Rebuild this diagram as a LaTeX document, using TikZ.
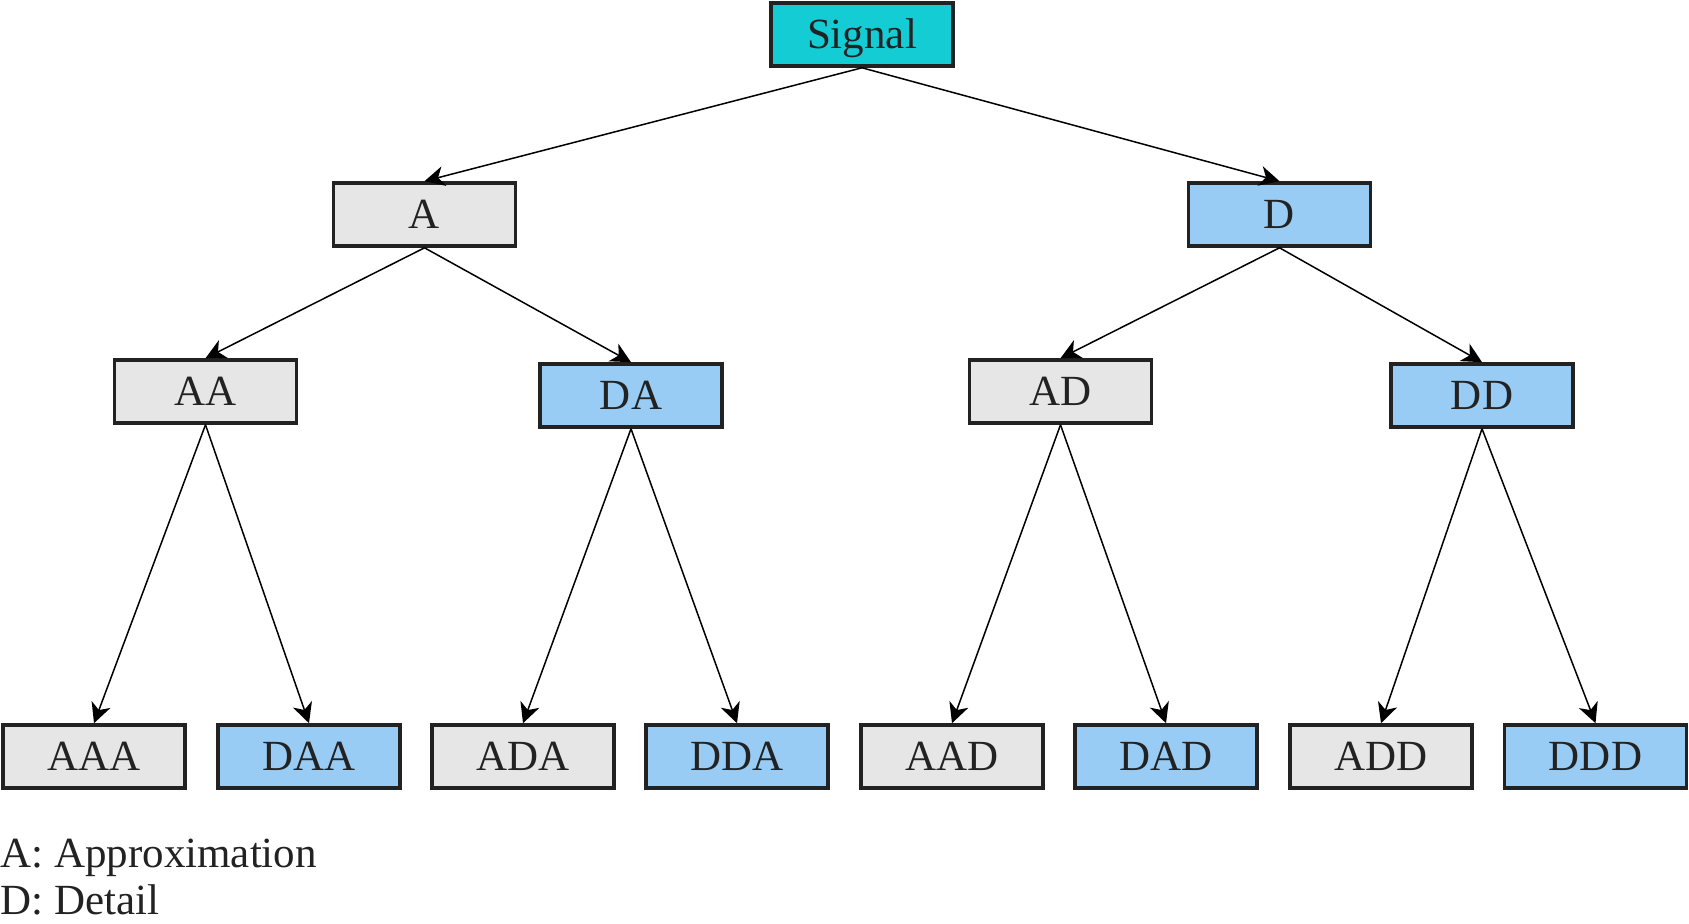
\documentclass[tikz,border=0pt]{standalone}
\usepackage{fontspec}
\setmainfont{Liberation Serif}
\usetikzlibrary{arrows.meta}
\definecolor{sigcol}{HTML}{14CCD4}
\definecolor{acol}{HTML}{E6E6E6}
\definecolor{dcol}{HTML}{99CCF5}
\definecolor{edgecol}{HTML}{222222}
\tikzset{
  box/.style={draw=edgecol, line width=1.8pt, minimum width=91pt, minimum height=31.5pt, inner sep=0pt, text height=14pt, text depth=0pt, font=\fontsize{21.5pt}{25pt}\selectfont, text=edgecol},
  abox/.style={box, fill=acol},
  dbox/.style={box, fill=dcol},
  sbox/.style={box, fill=sigcol},
  link/.style={draw=black, line width=0.75pt, -{Stealth[length=10pt,width=10pt,inset=3pt]}},
  legend/.style={anchor=base west, inner sep=0pt, font=\fontsize{21.5pt}{25pt}\selectfont, text=edgecol}
}
\begin{document}
\begin{tikzpicture}[x=0.5pt,y=-0.5pt]
\useasboundingbox (0,0) rectangle (1689,924);
\node[sbox] (S) at (862,34.5) {Signal};
\node[abox] (A) at (424.5,214.5) {A};
\node[dbox] (D) at (1279.5,214.5) {D};
\node[abox] (AA) at (205.5,391.5) {AA};
\node[dbox] (DA) at (631,395.5) {DA};
\node[abox] (AD) at (1060.5,391.5) {AD};
\node[dbox] (DD) at (1482,395.5) {DD};
\node[abox] (AAA) at (94,756.5) {AAA};
\node[dbox] (DAA) at (309,756.5) {DAA};
\node[abox] (ADA) at (523,756.5) {ADA};
\node[dbox] (DDA) at (737,756.5) {DDA};
\node[abox] (AAD) at (952,756.5) {AAD};
\node[dbox] (DAD) at (1166,756.5) {DAD};
\node[abox] (ADD) at (1381,756.5) {ADD};
\node[dbox] (DDD) at (1595.5,756.5) {DDD};
\foreach \p/\c in {S/A,S/D,A/AA,A/DA,D/AD,D/DD,AA/AAA,AA/DAA,DA/ADA,DA/DDA,AD/AAD,AD/DAD,DD/ADD,DD/DDD}
  \draw[link] (\p.south) -- (\c.north);
\node[legend] (L1) at (0,867) {A: Approximation};
\node[legend] (L2) at (0,914) {D: Detail};
\end{tikzpicture}
\end{document}
